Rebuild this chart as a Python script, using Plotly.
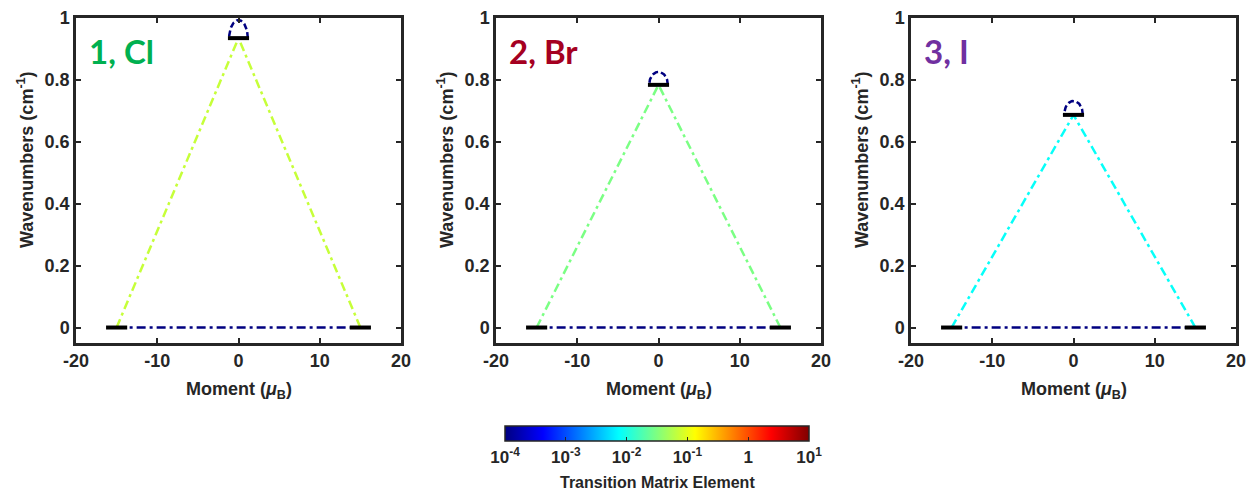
import numpy as np
import plotly.graph_objects as go
from plotly.colors import sample_colorscale

# ---------------- data ----------------
panel_labels = ["1, Cl", "2, Br", "3, I"]
label_colors = ["#00B050", "#A50021", "#7030A0"]
top_levels = [0.935, 0.784, 0.687]          # excited doublet energy (cm^-1)
ground_moments = [-15, 15]                  # ground doublet moments (mu_B)
ground_level = 0.0
top_moment = 0.0
trans_elements = [0.07, 0.03, 0.008]        # ground -> excited transition matrix element
qtm_element = 1e-4                          # ground <-> ground tunnelling element
loop_element = 1e-4                         # excited-state loop element
arc_heights = [0.058, 0.042, 0.045]
x_ticks = [-20, -10, 0, 10, 20]
x_ticktext = ["-20", "-10", "0", "10", "20"]
y_ticks = [0, 0.2, 0.4, 0.6, 0.8, 1]
cbar_tickvals = [-4, -3, -2, -1, 0, 1]
cbar_ticktext = ["10<sup>-4</sup>", "10<sup>-3</sup>", "10<sup>-2</sup>",
                 "10<sup>-1</sup>", "1", "10<sup>1</sup>"]

jet = [[0, "rgb(0,0,128)"], [0.125, "rgb(0,0,255)"], [0.375, "rgb(0,255,255)"],
       [0.625, "rgb(255,255,0)"], [0.875, "rgb(255,0,0)"], [1, "rgb(128,0,0)"]]
cmin, cmax = -4, 1


def jet_color(v):
    p = (np.log10(v) - cmin) / (cmax - cmin)
    p = float(min(max(p, 0), 1))
    return sample_colorscale(jet, [p])[0]


W, H = 1249, 491
xdom_px = [(76, 401), (496, 821), (911, 1236)]
ydom = [1 - 343 / H, 1 - 18 / H]
FONT = "Liberation Sans"
AX = "#262626"
TXT = "#262626"
DASHDOT = "9px,4px,3px,4px"

fig = go.Figure()
bar_half = 1.3

for i in range(3):
    xa = "x" if i == 0 else f"x{i+1}"
    ya = "y" if i == 0 else f"y{i+1}"
    E = top_levels[i]
    # ground-ground tunnelling line
    fig.add_trace(go.Scatter(x=ground_moments, y=[ground_level, ground_level], mode="lines",
                             line=dict(color=jet_color(qtm_element), width=2.5, dash=DASHDOT),
                             xaxis=xa, yaxis=ya, showlegend=False, hoverinfo="skip"))
    # transitions to excited state
    for gm in ground_moments:
        fig.add_trace(go.Scatter(x=[gm, top_moment], y=[ground_level, E], mode="lines",
                                 line=dict(color=jet_color(trans_elements[i]), width=2.5, dash=DASHDOT),
                                 xaxis=xa, yaxis=ya, showlegend=False, hoverinfo="skip"))
    # loop arc at excited level
    t = np.linspace(0, np.pi, 40)
    fig.add_trace(go.Scatter(x=top_moment + 1.15 * np.cos(t), y=E + arc_heights[i] * np.sin(t),
                             mode="lines", cliponaxis=False,
                             line=dict(color=jet_color(loop_element), width=2.5, dash="6px,3px"),
                             xaxis=xa, yaxis=ya, showlegend=False, hoverinfo="skip"))
    # energy level bars
    for m, e in [(ground_moments[0], ground_level), (ground_moments[1], ground_level), (top_moment, E)]:
        fig.add_trace(go.Scatter(x=[m - bar_half, m + bar_half], y=[e, e], mode="lines",
                                 line=dict(color="black", width=4),
                                 xaxis=xa, yaxis=ya, showlegend=False, hoverinfo="skip"))

# dummy trace for colorbar
fig.add_trace(go.Scatter(
    x=[0], y=[-1], mode="markers", xaxis="x", yaxis="y", showlegend=False, hoverinfo="skip",
    marker=dict(color=[cmin], colorscale=jet, cmin=cmin, cmax=cmax, opacity=0, size=1,
                showscale=True,
                colorbar=dict(orientation="h", x=(505 + 809) / 2 / W, xanchor="center",
                              y=1 - 423 / H, yanchor="top", len=(809 - 505) / W, lenmode="fraction",
                              thickness=15, thicknessmode="pixels",
                              outlinewidth=1.5, outlinecolor=AX,
                              tickvals=cbar_tickvals, ticktext=cbar_ticktext,
                              ticks="inside", ticklen=4, tickcolor=AX,
                              tickfont=dict(family=FONT, size=17, color=TXT, weight="bold"),
                              xpad=0, ypad=3))))

layout = dict(
    width=W, height=H, margin=dict(l=0, r=0, t=0, b=0, autoexpand=False),
    paper_bgcolor="white", plot_bgcolor="white",
    showlegend=False,
)
annotations = [dict(text="<b>Transition Matrix Element</b>", x=657 / W, y=1 - 482 / H,
                    xref="paper", yref="paper", xanchor="center", yanchor="middle",
                    showarrow=False, font=dict(family=FONT, size=16, color=TXT))]
for i in range(3):
    sfx = "" if i == 0 else str(i + 1)
    x0, x1 = xdom_px[i]
    layout[f"xaxis{sfx}"] = dict(
        domain=[x0 / W, x1 / W], range=[-20, 20], anchor=f"y{sfx}", automargin=False,
        tickvals=x_ticks, ticktext=x_ticktext, ticks="inside", ticklen=5, tickwidth=1.5,
        tickcolor=AX, showline=True, linewidth=2.5, linecolor=AX, mirror="allticks",
        showgrid=False, zeroline=False,
        tickfont=dict(family=FONT, size=18, color=TXT, weight="bold"),
    )
    layout[f"yaxis{sfx}"] = dict(
        domain=ydom, range=[-0.05, 1], anchor=f"x{sfx}", automargin=False,
        tickvals=y_ticks, ticks="inside", ticklen=5, tickwidth=1.5,
        tickcolor=AX, showline=True, linewidth=2.5, linecolor=AX, mirror="allticks",
        showgrid=False, zeroline=False,
        tickfont=dict(family=FONT, size=18, color=TXT, weight="bold"),
    )
    # panel label
    annotations.append(dict(text=f"<b>{panel_labels[i]}</b>", x=-18.7, y=0.893,
                            xref=f"x{sfx}", yref=f"y{sfx}", xanchor="left", yanchor="middle",
                            showarrow=False,
                            font=dict(family="Lato", size=33, color=label_colors[i])))
    # axis titles
    annotations.append(dict(text="<b>Moment (<i>μ</i><sub>B</sub>)</b>", x=(x0 + x1) / 2 / W,
                            y=1 - 390 / H, xref="paper", yref="paper", xanchor="center",
                            yanchor="middle", showarrow=False,
                            font=dict(family=FONT, size=18, color=TXT)))
    annotations.append(dict(text="<b>Wavenumbers (cm<sup>-1</sup>)</b>", x=(x0 - 51) / W,
                            y=1 - 160 / H, xref="paper", yref="paper", xanchor="center",
                            yanchor="middle", textangle=-90, showarrow=False,
                            font=dict(family=FONT, size=18, color=TXT)))
layout["annotations"] = annotations
fig.update_layout(**layout)
fig.write_html("out.html", config={"displayModeBar": False},
               post_script="document.body.style.margin='0';document.body.style.overflow='hidden';")
